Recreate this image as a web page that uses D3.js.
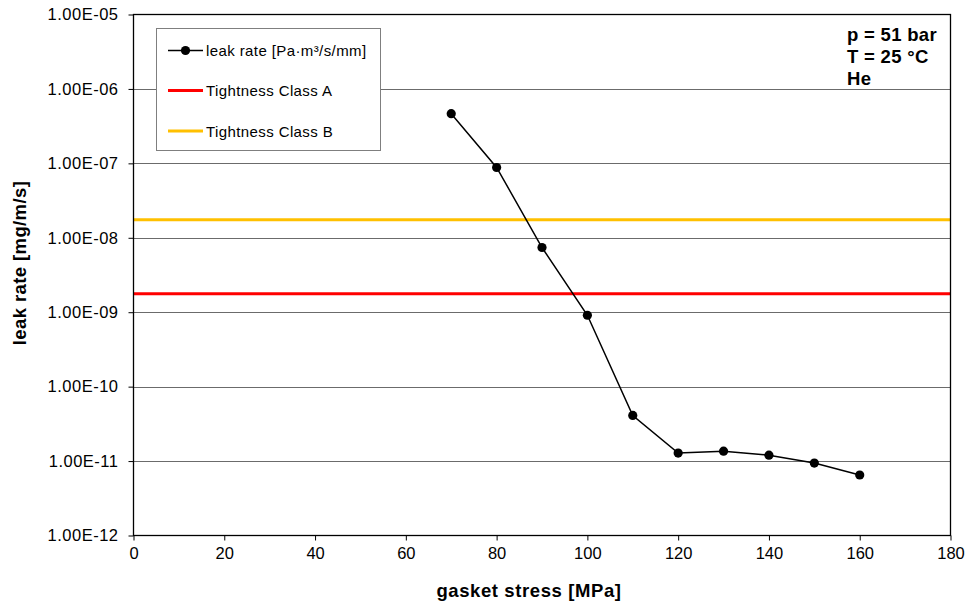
<!DOCTYPE html>
<html><head><meta charset="utf-8">
<script src="https://cdn.jsdelivr.net/npm/d3@7/dist/d3.min.js"></script>
<style>
body{margin:0;background:#fff;}
svg{display:block;font-family:"Liberation Sans",Arial,sans-serif;}
</style></head>
<body><svg id="c" width="968" height="606"></svg>
<script>
const stress = [70, 80, 90, 100, 110, 120, 130, 140, 150, 160];
const leakRate = [4.65e-7, 8.8e-8, 7.4e-9, 9.1e-10, 4.1e-11, 1.28e-11, 1.36e-11, 1.2e-11, 9.4e-12, 6.5e-12];
const classA = 1.77e-9;
const classB = 1.75e-8;
const xTicks = [0, 20, 40, 60, 80, 100, 120, 140, 160, 180];
const yTicks = [1e-12, 1e-11, 1e-10, 1e-9, 1e-8, 1e-7, 1e-6, 1e-5];
const legendLabels = ["leak rate [Pa·m³/s/mm]", "Tightness Class A", "Tightness Class B"];
const notes = ["p = 51 bar", "T = 25 °C", "He"];

const svg = d3.select("#c");
const L = 133.5, R = 950.5, T = 14.5, B = 535.5;
const x = d3.scaleLinear().domain([0, 180]).range([L, R]);
const y = d3.scaleLog().domain([1e-12, 1e-5]).range([B, T]);

function fmt(v){
  const e = Math.round(Math.log10(v));
  const s = e < 0 ? "-" : "+";
  const a = Math.abs(e);
  return "1.00E" + s + (a < 10 ? "0" + a : a);
}

// gridlines
svg.append("g").selectAll("line").data(yTicks.slice(1, -1)).join("line")
  .attr("x1", L).attr("x2", R).attr("y1", d => Math.round(y(d)) + 0.5).attr("y2", d => Math.round(y(d)) + 0.5)
  .attr("stroke", "#6b6b6b").attr("stroke-width", 1);

// class lines
[[classB, "#ffc000"], [classA, "#ff0000"]].forEach(([v, c]) => {
  svg.append("line").attr("x1", L).attr("x2", R).attr("y1", y(v)).attr("y2", y(v))
    .attr("stroke", c).attr("stroke-width", 3);
});

// axes
const yAxis = d3.axisLeft(y).tickValues(yTicks).tickFormat(fmt).tickSizeInner(5).tickSizeOuter(0).tickPadding(10);
const gy = svg.append("g").attr("transform", `translate(${L},0)`).call(yAxis);
gy.selectAll("text").attr("font-size", 16.5).attr("letter-spacing", "0.5px").attr("fill", "#000")
  .attr("font-family", "'Liberation Sans',Arial,sans-serif");
gy.selectAll("line").attr("stroke", "#000");
gy.select(".domain").remove();

const xAxis = d3.axisBottom(x).tickValues(xTicks).tickFormat(d3.format("d")).tickSizeInner(5).tickSizeOuter(0).tickPadding(7);
const gx = svg.append("g").attr("transform", `translate(0,${B})`).call(xAxis);
gx.selectAll("text").attr("font-size", 16.5).attr("fill", "#000").attr("font-family", "'Liberation Sans',Arial,sans-serif");
gx.selectAll("line").attr("stroke", "#000");
gx.select(".domain").remove();

// plot frame
svg.append("rect").attr("x", L).attr("y", T).attr("width", R - L).attr("height", B - T)
  .attr("fill", "none").attr("stroke", "#000").attr("stroke-width", 1.3);

// series
const pts = stress.map((s, i) => [s, leakRate[i]]);
svg.append("path").datum(pts)
  .attr("d", d3.line().x(d => x(d[0])).y(d => y(d[1])))
  .attr("fill", "none").attr("stroke", "#000").attr("stroke-width", 1.5);
svg.append("g").selectAll("circle").data(pts).join("circle")
  .attr("cx", d => x(d[0])).attr("cy", d => y(d[1])).attr("r", 4.6).attr("fill", "#000");

// legend
const lg = svg.append("g");
lg.append("rect").attr("x", 156.5).attr("y", 28.5).attr("width", 224).attr("height", 122)
  .attr("fill", "#fff").attr("stroke", "#7f7f7f").attr("stroke-width", 1);
const rowsY = [50.5, 90.5, 131];
const colors = ["#000", "#ff0000", "#ffc000"];
rowsY.forEach((ry, i) => {
  lg.append("line").attr("x1", 168).attr("x2", 203).attr("y1", ry).attr("y2", ry)
    .attr("stroke", colors[i]).attr("stroke-width", i === 0 ? 1.5 : 3);
  if (i === 0) lg.append("circle").attr("cx", 185.5).attr("cy", ry).attr("r", 4.6).attr("fill", "#000");
  lg.append("text").attr("x", 206).attr("y", ry + 5.5).attr("font-size", 15).attr("letter-spacing", "0.4px")
    .attr("fill", "#000").text(legendLabels[i]);
});

// notes
const nb = [41, 63, 84.5];
notes.forEach((t, i) => {
  svg.append("text").attr("x", 847).attr("y", nb[i]).attr("font-size", 18.5).attr("letter-spacing", "0.3px")
    .attr("font-weight", "bold").attr("fill", "#000").text(t);
});

// axis titles
svg.append("text").attr("x", 529).attr("y", 597).attr("text-anchor", "middle")
  .attr("font-size", 18.5).attr("letter-spacing", "0.6px").attr("font-weight", "bold").text("gasket stress [MPa]");
svg.append("text").attr("transform", "translate(26,263) rotate(-90)").attr("text-anchor", "middle")
  .attr("font-size", 18.5).attr("letter-spacing", "0.4px").attr("font-weight", "bold").text("leak rate [mg/m/s]");
</script></body></html>
